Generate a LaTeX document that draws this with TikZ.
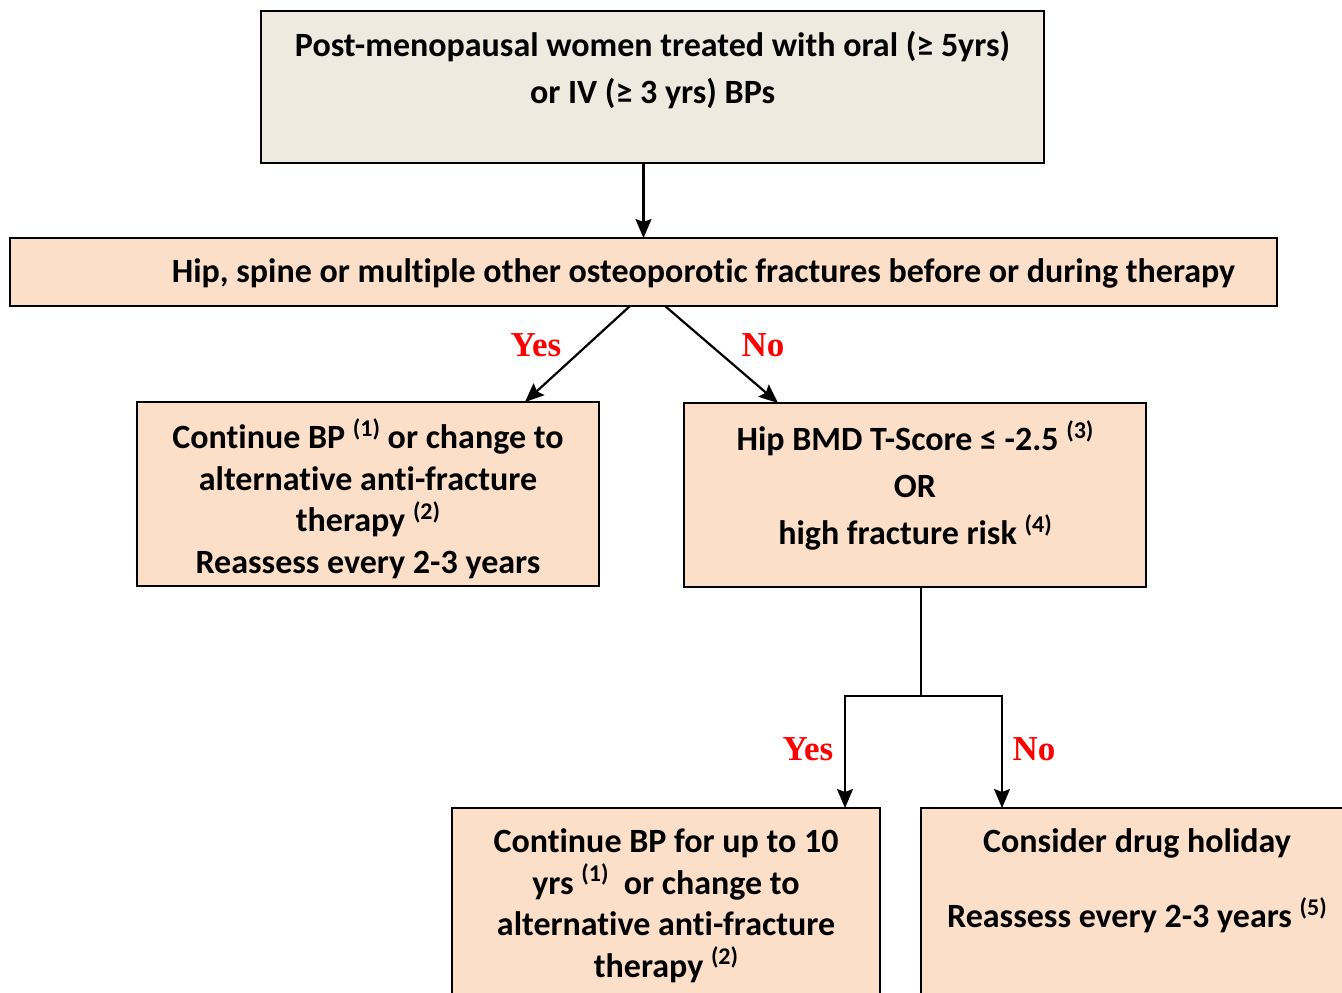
\documentclass[tikz,border=0pt]{standalone}
\usepackage{fontspec}
\setmainfont{Carlito}[Ligatures=NoCommon]
\newfontfamily\answerfont{Liberation Serif}
\usepackage{tikz}
\usetikzlibrary{arrows.meta}
\usetikzlibrary{positioning}

\definecolor{greybox}{HTML}{EEEAE0}
\definecolor{peach}{HTML}{FBDFC8}

\newcommand{\refmark}[1]{\raisebox{0.75ex}{\fontsize{12}{12}\selectfont(#1)}}

\begin{document}
\begin{tikzpicture}[
		x=0.5pt,
		y=-0.5pt,
		>={Stealth[length=9.5pt,width=8pt,inset=1.5pt]},
		line width=1.1pt,
		box/.style={
			draw,
			fill=peach,
			inner sep=0pt,
			outer sep=0pt
		},
		box text/.style={
			align=center,
			font=\fontsize{17}{20.75}\selectfont\bfseries
		},
		answer/.style={
			text=red,
			font=\fontsize{17.5}{17.5}\selectfont\answerfont\bfseries
		}
		]
		\useasboundingbox (0,0) rectangle (1342,992);
		
		% boxes
		\node[box, fill=greybox, minimum width=391.5pt, minimum height=76pt] (start) at (652.5,87) {};
		\node[box, minimum width=633.5pt, minimum height=34pt] (fracture) at (643.5,272) {};
		\node[box, minimum width=231pt, minimum height=92pt] (cont) at (368,494) {};
		\node[box, minimum width=231pt, minimum height=92pt] (bmd) at (915,495) {};
		\node[box, minimum width=214pt, minimum height=101pt] (tenyrs) at (666,909) {};
		\node[box, minimum width=214.5pt, minimum height=101pt] (holiday) at (1135.5,909) {};
		
		% texts
		\node[box text, font=\fontsize{17}{23.5}\selectfont\bfseries] (start text) at (652.5,70)
			{Post-menopausal women treated with oral (≥ 5yrs)\\or IV (≥ 3 yrs) BPs};
		\node[box text] (fracture text) at (703.5,273.5)
			{Hip, spine or multiple other osteoporotic fractures before or during therapy};
		\node[box text] (cont text) at (368,498.5)
			{Continue BP \refmark{1} or change to\\alternative anti-fracture\\therapy \refmark{2}\\Reassess every 2-3 years};
		\node[box text, font=\fontsize{17}{23.5}\selectfont\bfseries] (bmd text) at (915,485.5)
			{Hip BMD T-Score ≤ -2.5 \refmark{3}\\OR\\high fracture risk \refmark{4}};
		\node[box text] (tenyrs text) at (666,905.5)
			{Continue BP for up to 10\\yrs \refmark{1}\ \ or change to\\alternative anti-fracture\\therapy \refmark{2}};
		\node[box text] (holiday text) at (1137,881)
			{Consider drug holiday\\[16.75pt]Reassess every 2-3 years \refmark{5}};
		
		% connectors
		\coordinate (split) at (921,696);
		\draw[->] (fracture.north |- start.south) -- (fracture.north);
		\draw[->] ([xshift=-6.75pt]fracture.south) -- ([xshift=78.5pt]cont.north);
		\draw[->] ([xshift=10.75pt]fracture.south) -- ([xshift=-68.5pt]bmd.north);
		\draw ([xshift=3pt]bmd.south) -- (split);
		\draw[->] (split) -| ([xshift=89.5pt]tenyrs.north);
		\draw[->] (split) -| ([xshift=-66.75pt]holiday.north);
		
		% yes / no
		\node[answer] (yes1) at (536,345) {Yes};
		\node[answer] (no1) at (763,345) {No};
		\node[answer] (yes2) at (808,749) {Yes};
		\node[answer] (no2) at (1034,749) {No};
	\end{tikzpicture}
\end{document}
